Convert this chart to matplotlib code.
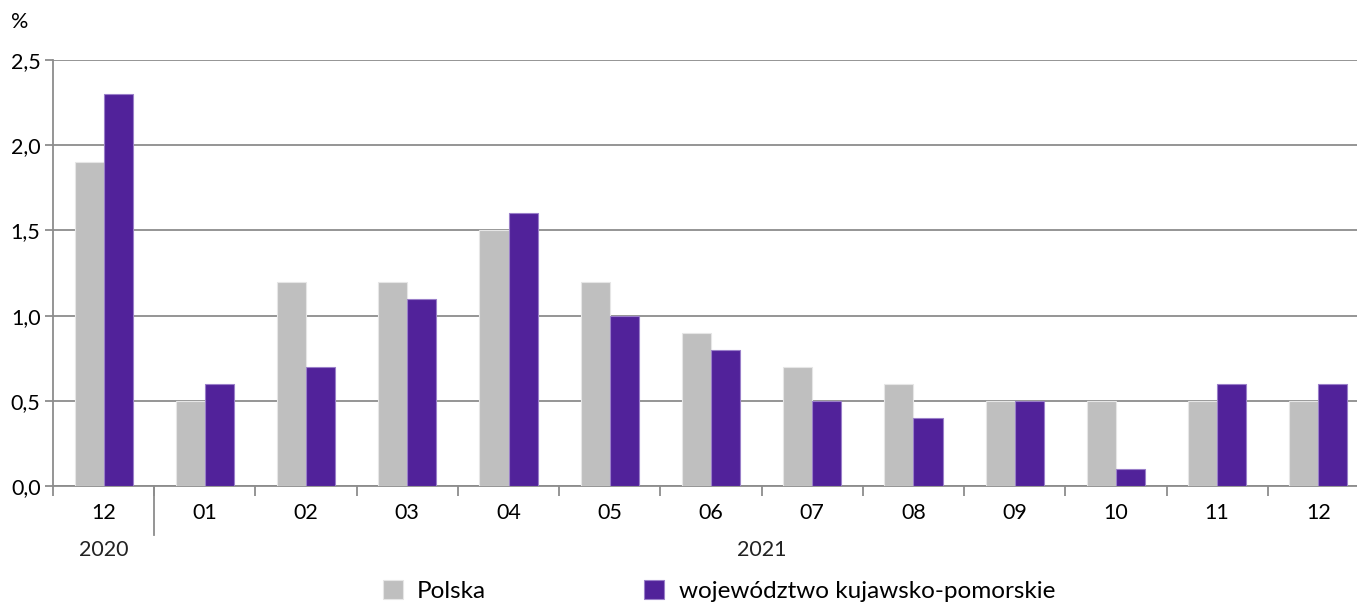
import matplotlib.pyplot as plt
import numpy as np

plt.rcParams['font.family'] = ['Lato', 'DejaVu Sans']

months = ['12', '01', '02', '03', '04', '05', '06', '07', '08', '09', '10', '11', '12']
polska = [1.9, 0.5, 1.2, 1.2, 1.5, 1.2, 0.9, 0.7, 0.6, 0.5, 0.5, 0.5, 0.5]
kujawsko = [2.3, 0.6, 0.7, 1.1, 1.6, 1.0, 0.8, 0.5, 0.4, 0.5, 0.1, 0.6, 0.6]
yticks = [0.0, 0.5, 1.0, 1.5, 2.0, 2.5]

grey = '#bfbfbf'
purple = '#51229a'
axis_col = '#8c8c8c'

fig = plt.figure(figsize=(13.57, 6.02), dpi=100)
ax = fig.add_axes([53 / 1357, 1 - 486 / 602, 1316 / 1357, 426 / 602])

x = np.arange(len(months))
w = 0.287
ax.bar(x - w / 2, polska, w, color=grey, edgecolor='#e6e6e6', linewidth=0.8,
       label='Polska', zorder=3)
ax.bar(x + w / 2, kujawsko, w, color=purple, edgecolor='#9a7fc9', linewidth=0.8,
       label='województwo kujawsko-pomorskie', zorder=3)

ax.set_xlim(-0.5, len(months) - 0.5)
ax.set_ylim(0, 2.5)
ax.set_yticks(yticks)
ax.set_yticklabels([f'{v:.1f}'.replace('.', ',') for v in yticks], fontsize=15.5)
ax.yaxis.grid(True, color=axis_col, linewidth=1.3, zorder=0)
ax.tick_params(axis='y', length=6, width=1.3, color=axis_col, pad=3)

ax.set_xticks(x)
ax.set_xticklabels(months, fontsize=15.5)
ax.tick_params(axis='x', which='major', length=0, pad=12)
ax.set_xticks(np.arange(-0.5, len(months), 1), minor=True)
ax.tick_params(axis='x', which='minor', length=7, width=1.3, color=axis_col)

for s in ['top', 'right']:
    ax.spines[s].set_visible(False)
for s in ['left', 'bottom']:
    ax.spines[s].set_color(axis_col)
    ax.spines[s].set_linewidth(1.3)

# long separator between years
ax.plot([0.5, 0.5], [0, -49 / 426 * 2.5], color=axis_col, linewidth=1.3,
        clip_on=False, zorder=4)

ax.text(0, -0.375, '2020', ha='center', va='center', fontsize=15.5, color='#222222')
ax.text(6.5, -0.375, '2021', ha='center', va='center', fontsize=15.5, color='#222222')
fig.text(20 / 1357, 1 - 22 / 602, '%', ha='center', va='center', fontsize=15.5)

fig.legend(loc='lower left', bbox_to_anchor=(373 / 1357, -0.016), ncol=2,
           frameon=False, fontsize=17.5, handlelength=0.82, handleheight=0.82,
           handletextpad=0.6, columnspacing=6.5, borderaxespad=0)

fig.savefig('out.png', dpi=100)
